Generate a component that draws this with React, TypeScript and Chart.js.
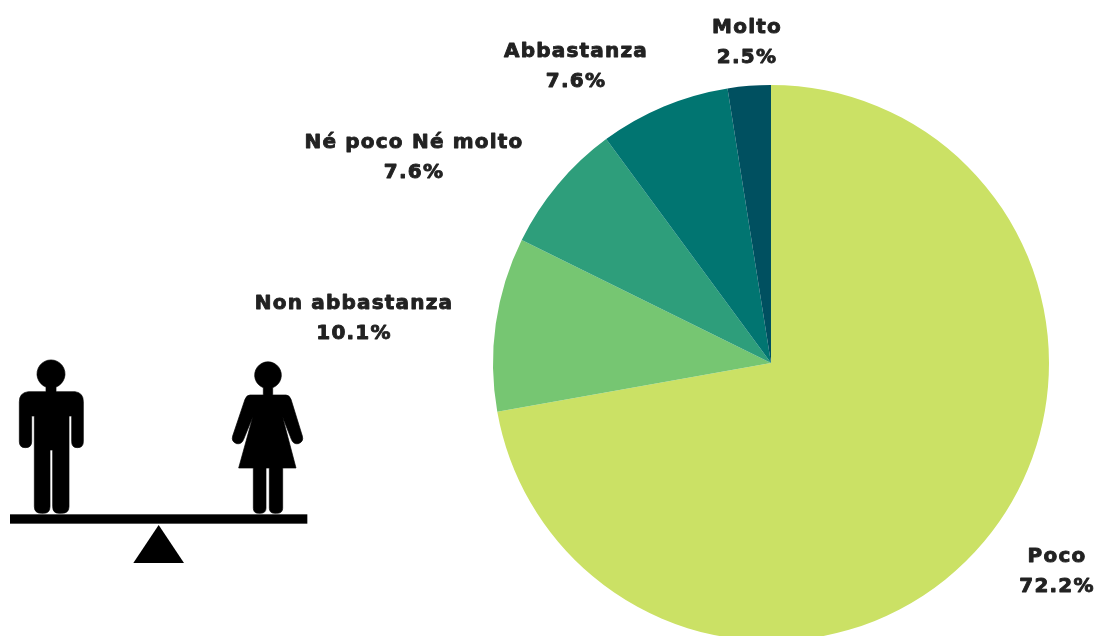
import React, { useEffect, useRef } from "react";
import { Chart, registerables } from "chart.js";

Chart.register(...registerables);

const categories = ["Poco", "Non abbastanza", "Né poco Né molto", "Abbastanza", "Molto"];
const values = [72.2, 10.1, 7.6, 7.6, 2.5];
const colors = ["#CBE165", "#76C672", "#2E9E7B", "#017571", "#005060"];
const labelCentres: [number, number][] = [
  [1057, 557],
  [354, 304],
  [414, 143],
  [576, 52],
  [747, 28],
];

const CANVAS_H = 660;
const FONT = 'bold 20px "DejaVu Sans"';

const labelsPlugin = {
  id: "sliceLabels",
  afterDraw(chart: any) {
    const { ctx } = chart;
    ctx.save();
    ctx.fillStyle = "#222222";
    ctx.strokeStyle = "#222222";
    ctx.lineWidth = 0.9;
    ctx.lineJoin = "round";
    ctx.font = FONT;
    ctx.letterSpacing = "1.2px";
    ctx.textAlign = "center";
    ctx.textBaseline = "middle";
    categories.forEach((c, i) => {
      const [x, y] = labelCentres[i];
      const pct = values[i].toFixed(1) + "%";
      ctx.fillText(c, x, y);
      ctx.strokeText(c, x, y);
      ctx.fillText(pct, x, y + 30);
      ctx.strokeText(pct, x, y + 30);
    });
    ctx.restore();
  },
};

const seesawPlugin = {
  id: "seesaw",
  afterDraw(chart: any) {
    const { ctx } = chart;
    ctx.save();
    ctx.translate(0, 340);
    ctx.scale(1 / 3, 1 / 3);
    ctx.fillStyle = "#000000";
    ctx.strokeStyle = "#000000";
    ctx.lineWidth = 2;
    const man = new Path2D(
      "M85,155 H138 V141 A42,42 0 1 1 168,141 V155 H225 Q250,158 250,185 V305 Q250,323 232,323 Q215,323 215,305 V228 H207 V500 Q207,520 185,520 H177 Q158,520 158,500 V330 H150 V500 Q150,520 130,520 H125 Q103,520 103,500 V228 H95 V305 Q95,323 76,323 Q58,323 58,305 V185 Q58,158 85,155 Z"
    );
    const woman = new Path2D(
      "M750,165 H790 V143 A40,40 0 1 1 818,143 V165 H858 Q868,165 873,178 L907,288 Q912,305 895,311 Q880,314 874,298 L848,232 L888,384 H848 V505 Q848,520 830,520 H825 Q808,520 808,505 V384 H798 V505 Q798,520 780,520 H776 Q760,520 760,505 V384 H716 L758,232 L731,298 Q725,314 710,311 Q693,305 698,288 L735,178 Q740,165 750,165 Z"
    );
    ctx.fill(man);
    ctx.stroke(man);
    ctx.fill(woman);
    ctx.stroke(woman);
    ctx.fillRect(30, 523, 892, 28);
    ctx.beginPath();
    ctx.moveTo(476, 555);
    ctx.lineTo(552, 669);
    ctx.lineTo(400, 669);
    ctx.closePath();
    ctx.fill();
    ctx.restore();
  },
};

export default function App() {
  const ref = useRef<HTMLCanvasElement>(null);
  useEffect(() => {
    const chart = new Chart(ref.current!, {
      type: "pie",
      data: {
        labels: categories,
        datasets: [{ data: values, backgroundColor: colors, borderWidth: 0 }],
      },
      options: {
        responsive: false,
        animation: false,
        layout: { padding: { left: 493, right: 1096 - 1049, top: 85, bottom: CANVAS_H - 641 } },
        plugins: { legend: { display: false }, tooltip: { enabled: false }, title: { display: false } },
      },
      plugins: [labelsPlugin, seesawPlugin],
    });
    return () => chart.destroy();
  }, []);
  return (
    <div style={{ position: "fixed", left: 0, top: 0, width: 1096, height: 636, overflow: "hidden", background: "#fff" }}>
      <canvas ref={ref} width={1096} height={CANVAS_H} style={{ display: "block", width: 1096, height: CANVAS_H }} />
    </div>
  );
}
